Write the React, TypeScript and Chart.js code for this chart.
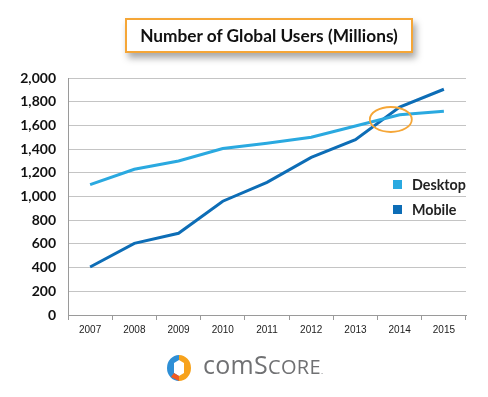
import React, { useEffect, useRef } from "react";
import { Chart, registerables } from "chart.js";

Chart.register(...registerables);

const years = ["2007", "2008", "2009", "2010", "2011", "2012", "2013", "2014", "2015"];
const desktop = [1100, 1230, 1300, 1405, 1450, 1500, 1595, 1690, 1720];
const mobile = [405, 605, 690, 960, 1120, 1330, 1480, 1755, 1905];
const seriesNames = ["Desktop", "Mobile"];
const seriesColors = ["#2aa9e0", "#0d6db6"];
const titleText = "Number of Global Users (Millions)";

const crossingCircle = {
  id: "crossingCircle",
  afterDatasetsDraw(chart: any) {
    const { ctx, scales } = chart;
    const x = scales.x.getPixelForValue(6.8);
    const y = scales.y.getPixelForValue(1650);
    ctx.save();
    ctx.strokeStyle = "#f5a637";
    ctx.lineWidth = 1.8;
    ctx.beginPath();
    ctx.ellipse(x, y, 21, 12.5, 0, 0, Math.PI * 2);
    ctx.stroke();
    ctx.restore();
  },
};

export default function App() {
  const ref = useRef<HTMLCanvasElement>(null);
  useEffect(() => {
    const chart = new Chart(ref.current!, {
      type: "line",
      data: {
        labels: years,
        datasets: [
          { label: seriesNames[0], data: desktop, borderColor: seriesColors[0], backgroundColor: seriesColors[0], borderWidth: 3, pointRadius: 0, tension: 0 },
          { label: seriesNames[1], data: mobile, borderColor: seriesColors[1], backgroundColor: seriesColors[1], borderWidth: 3, pointRadius: 0, tension: 0 },
        ],
      },
      options: {
        animation: false,
        responsive: false,
        layout: { padding: { left: 0, right: 22, top: 78, bottom: 52 } },
        plugins: { legend: { display: false }, tooltip: { enabled: false }, title: { display: false } },
        scales: {
          x: {
            offset: true,
            grid: { offset: true, drawOnChartArea: false, drawTicks: true, tickLength: 5, color: "#9a9a9a" },
            border: { display: true, color: "#9a9a9a", width: 1 },
            ticks: { color: "#222", font: { family: "Liberation Sans", size: 10 }, padding: 4, maxRotation: 0 },
            afterFit: (s: any) => { s.height = 30; },
          },
          y: {
            min: 0,
            max: 2000,
            grid: { color: "#c4c4c4", drawTicks: false },
            border: { display: true, color: "#9a9a9a" },
            ticks: {
              stepSize: 200,
              color: "#111",
              padding: 12,
              font: { family: "Lato", size: 14, weight: "bold" },
              callback: (v: any) => Number(v).toLocaleString("en-US"),
            },
            afterFit: (s: any) => { s.width = 68; },
          },
        },
      },
      plugins: [crossingCircle],
    });
    return () => chart.destroy();
  }, []);

  return (
    <div style={{ position: "fixed", left: 0, top: 0, width: 488, height: 397, background: "#fff", fontFamily: "Lato, sans-serif" }}>
      <canvas ref={ref} width={488} height={397} style={{ position: "absolute", left: 0, top: 0 }} />
      <div
        style={{
          position: "absolute", left: 125, top: 18, width: 284, height: 31,
          border: "2px solid #f5a637", background: "#fff",
          boxShadow: "3px 5px 7px rgba(0,0,0,0.35)",
          display: "flex", alignItems: "center", justifyContent: "center",
          fontWeight: 700, fontSize: 17.3, color: "#111",
        }}
      >
        {titleText}
      </div>
      {seriesNames.map((n, i) => (
        <div key={n} style={{ position: "absolute", left: 393, top: 176 + i * 24.5, display: "flex", alignItems: "center", fontSize: 14.3, fontWeight: 700, color: "#222" }}>
          <span style={{ display: "inline-block", width: 9, height: 9, background: seriesColors[i], marginRight: 10 }} />
          {n}
        </div>
      ))}
      <div style={{ position: "absolute", left: 166, top: 350, display: "flex", alignItems: "center" }}>
        <svg width={27} height={28} viewBox="0 0 27 28">
          <path d="M13 1 A12 13 0 0 0 13 27 L13 22 L8 19 L8 9 L13 6 Z" fill="#2e8fd6" />
          <path d="M13 1 A12 13 0 0 1 13 27 L13 22 L18 19 L18 9 L13 6 Z" fill="#f7a21b" />
          <path d="M5 23 L13 27 L13 22 L8 19 Z" fill="#f05a22" />
        </svg>
        <span style={{ marginLeft: 10, fontFamily: "'Open Sans', sans-serif", fontSize: 25, color: "#707173", letterSpacing: 0.3, lineHeight: "28px" }}>
          com<span>S</span><span style={{ fontSize: 20 }}>CORE</span><span style={{ fontSize: 8 }}>.</span>
        </span>
      </div>
    </div>
  );
}
